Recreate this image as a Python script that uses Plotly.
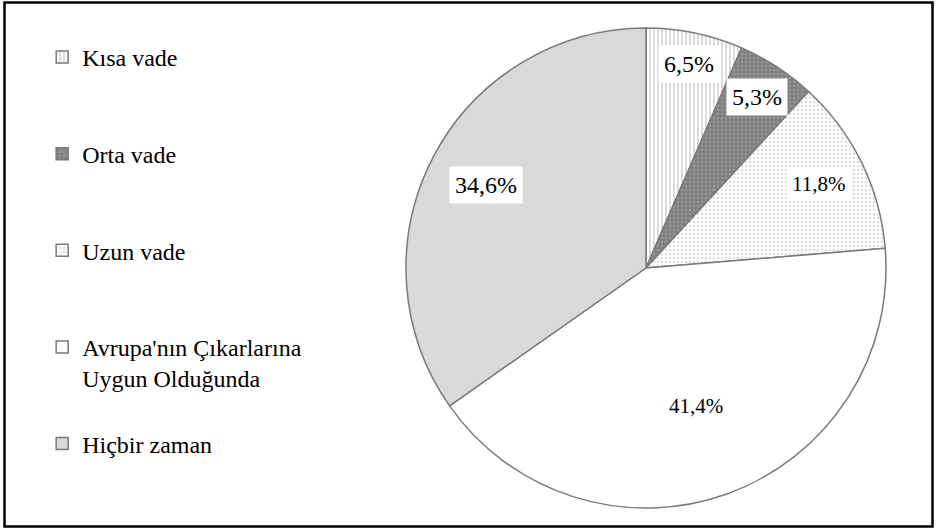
import math
import plotly.graph_objects as go

# data
labels = ["Kısa vade", "Orta vade", "Uzun vade",
          "Avrupa'nın Çıkarlarına<br>Uygun Olduğunda", "Hiçbir zaman"]
values = [6.5, 5.3, 11.8, 41.4, 34.6]
value_text = ["6,5%", "5,3%", "11,8%", "41,4%", "34,6%"]

# styling
SERIF = "Liberation Serif, Times New Roman, Tinos, DejaVu Serif, serif"
slice_colors = ["#ffffff", "#7f7f7f", "#ffffff", "#ffffff", "#d9d9d9"]
pattern_shapes = ["|", ".", ".", "", ""]
pattern_fg = ["#9a9a9a", "#b4b4b4", "#bdbdbd", "#ffffff", "#ffffff"]
label_radius = [0.87, 0.85, 0.80, 0.61, 0.75]
label_size = [24, 24, 21, 21, 24]

W, H = 937, 531
CX, CY, R = 646, 268, 240

# extra blank lines give the legend its wide vertical spacing
legend_labels = []
for lab in labels:
    n = lab.count("<br>") + 1
    legend_labels.append(lab + "<br> " * (3 - n))

fig = go.Figure(go.Pie(
    labels=legend_labels,
    values=values,
    sort=False,
    direction="clockwise",
    rotation=0,
    textinfo="none",
    hoverinfo="label+percent",
    marker=dict(
        colors=slice_colors,
        line=dict(color="#7a7a7a", width=1.5),
        pattern=dict(shape=pattern_shapes, fgcolor=pattern_fg,
                     fillmode="overlay", size=4, solidity=0.35),
    ),
    domain=dict(x=[(CX - R) / W, (CX + R) / W],
                y=[1 - (CY + R) / H, 1 - (CY - R) / H]),
))

# value labels in white boxes, placed at each slice's mid angle
total = sum(values)
cum = 0
for v, txt, rf, fs in zip(values, value_text, label_radius, label_size):
    ang = 2 * math.pi * (cum + v / 2) / total
    cum += v
    px = CX + R * rf * math.sin(ang)
    py = CY - R * rf * math.cos(ang)
    fig.add_annotation(
        x=px / W, y=1 - py / H, xref="paper", yref="paper",
        xanchor="center", yanchor="middle",
        text=txt, showarrow=False,
        font=dict(family=SERIF, size=fs, color="#000000"),
        bgcolor="#ffffff", borderpad=5,
    )

fig.add_shape(type="rect", xref="paper", yref="paper",
              x0=4.5 / W, x1=1 - 4.5 / W, y0=4.5 / H, y1=1 - 2.5 / H,
              line=dict(color="#000000", width=2.5))

fig.update_layout(
    width=W, height=H,
    margin=dict(l=0, r=0, t=0, b=0),
    paper_bgcolor="#ffffff",
    font=dict(family=SERIF, color="#000000"),
    showlegend=True,
    legend=dict(
        x=0.045, y=1 - 35 / H, xanchor="left", yanchor="top",
        font=dict(family=SERIF, size=24, color="#000000"),
        valign="top", itemwidth=30,
        bgcolor="rgba(0,0,0,0)",
    ),
)

# drop the default page margin so the figure sits at the window's corner
fig.write_html("out.html", config={"displayModeBar": False},
               post_script="document.body.style.margin='0';")
